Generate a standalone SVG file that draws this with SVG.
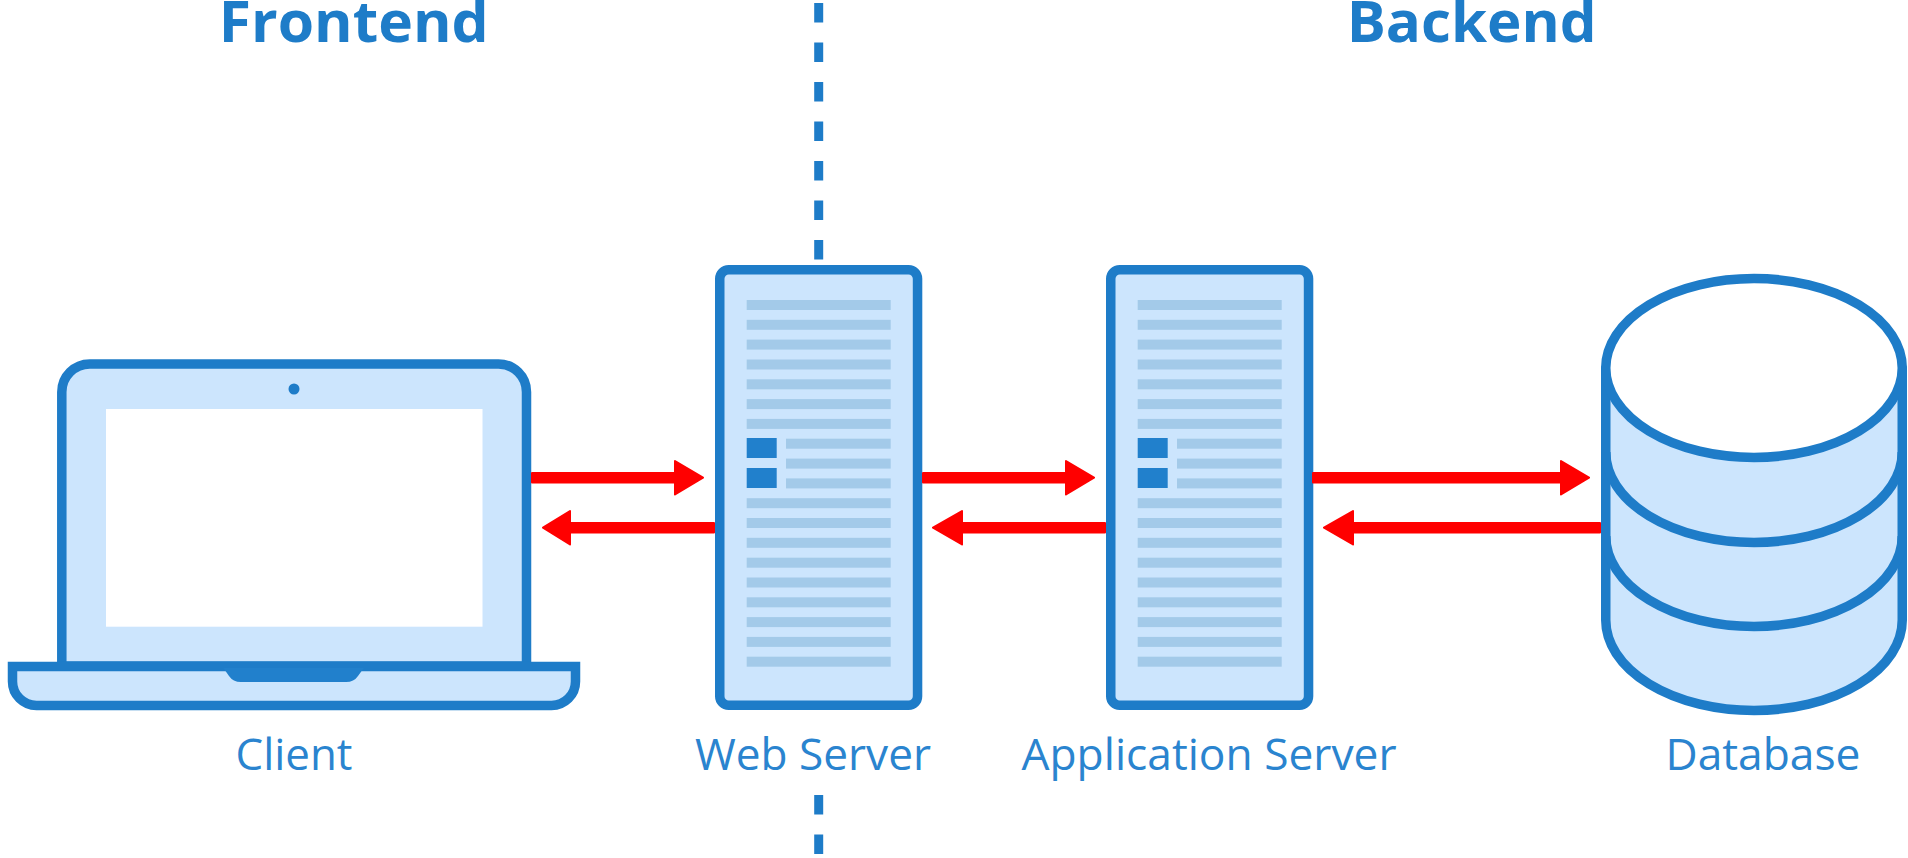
<svg xmlns="http://www.w3.org/2000/svg" width="1908" height="858" viewBox="0 0 1908 858">
<style>
.o{stroke:#1e7cc8;stroke-width:9.5;stroke-linejoin:round}
.f{fill:#cce5fd}
.b{fill:#a3cae9}
.d{fill:#2180cc}
.t{font-family:"Open Sans","Liberation Sans",sans-serif;fill:#2a84cf;font-size:44px;font-weight:400;text-anchor:middle}
.h{font-family:"Open Sans","Liberation Sans",sans-serif;fill:#1e7cc8;font-size:57px;font-weight:700;text-anchor:middle}
.r{fill:#f00;stroke:#f00;stroke-width:2;stroke-linejoin:round}
</style>
<defs>
<g id="srv">
<rect class="f o" x="719.75" y="269.75" width="197.8" height="435.5" rx="9"/>
<g class="b">
<rect x="746.7" y="300" width="144" height="10"/><rect x="746.7" y="319.8" width="144" height="10"/><rect x="746.7" y="339.6" width="144" height="10"/><rect x="746.7" y="359.5" width="144" height="10"/><rect x="746.7" y="379.3" width="144" height="10"/><rect x="746.7" y="399.1" width="144" height="10"/><rect x="746.7" y="418.9" width="144" height="10"/>
<rect x="786" y="438.7" width="104.7" height="10"/><rect x="786" y="458.6" width="104.7" height="10"/><rect x="786" y="478.4" width="104.7" height="10"/>
<rect x="746.7" y="498.2" width="144" height="10"/><rect x="746.7" y="518" width="144" height="10"/><rect x="746.7" y="537.8" width="144" height="10"/><rect x="746.7" y="557.7" width="144" height="10"/><rect x="746.7" y="577.5" width="144" height="10"/><rect x="746.7" y="597.3" width="144" height="10"/><rect x="746.7" y="617.1" width="144" height="10"/><rect x="746.7" y="636.9" width="144" height="10"/><rect x="746.7" y="656.7" width="144" height="10"/>
</g>
<rect class="d" x="746.7" y="438" width="30" height="20"/><rect class="d" x="746.7" y="468" width="30" height="20"/>
</g>
</defs>
<rect width="1908" height="858" fill="#fff"/>
<g id="divider" fill="none" stroke="#1e7cc8" stroke-width="9">
<path d="M818.7 3V260" stroke-dasharray="19.6 19.9"/>
<path d="M818.7 795V854" stroke-dasharray="19.6 19.9"/>
</g>
<text class="h" x="353.8" y="42" textLength="270" lengthAdjust="spacingAndGlyphs">Frontend</text>
<text class="h" x="1471.7" y="42" textLength="250" lengthAdjust="spacingAndGlyphs">Backend</text>
<g id="client">
<path class="f o" d="M61.8 666V392A28 28 0 0 1 89.8 364H498.5A28 28 0 0 1 526.5 392V666Z"/>
<rect x="106" y="409" width="376.5" height="217.7" fill="#fff"/>
<circle cx="294" cy="389" r="5.5" fill="#1e7cc8"/>
<path class="f" stroke="#1e7cc8" stroke-width="9.5" stroke-linejoin="miter" d="M12.5 666.4H575.5V681.5A24 24 0 0 1 551.5 705.5H36.5A24 24 0 0 1 12.5 681.5Z"/>
<path d="M223.4 668H363.8L358 676Q354 682 346 682H241Q233 682 229 676Z" fill="#2180cc"/>
<text class="t" x="294" y="769.5" textLength="117" lengthAdjust="spacingAndGlyphs">Client</text>
</g>
<g id="web-server">
<use href="#srv"/>
<text class="t" x="813" y="769.5" textLength="236" lengthAdjust="spacingAndGlyphs">Web Server</text>
</g>
<g id="app-server">
<use href="#srv" x="391"/>
<text class="t" x="1209" y="769.5" textLength="375" lengthAdjust="spacingAndGlyphs">Application Server</text>
</g>
<g id="database">
<path class="f o" d="M1605.75 368V620A148.25 90.5 0 0 0 1902.25 620V368Z"/>
<path class="o" fill="none" d="M1605.75 452A148.25 90.5 0 0 0 1902.25 452M1605.75 536A148.25 90.5 0 0 0 1902.25 536"/>
<ellipse class="o" cx="1754" cy="368" rx="148.25" ry="89.5" fill="#fff"/>
<text class="t" x="1763" y="769.5" textLength="195" lengthAdjust="spacingAndGlyphs">Database</text>
</g>
<g id="connectors">
<polygon class="r" points="532,473 675,473 675,461 703,477.7 675,494.5 675,482.5 532,482.5"/>
<polygon class="r" points="923,473 1066,473 1066,461 1094,477.7 1066,494.5 1066,482.5 923,482.5"/>
<polygon class="r" points="1313,473 1561,473 1561,461 1589,477.7 1561,494.5 1561,482.5 1313,482.5"/>
<polygon class="r" points="714,523 570,523 570,511 543,527.7 570,544.5 570,532.5 714,532.5"/>
<polygon class="r" points="1105,523 962,523 962,511 933,527.7 962,544.5 962,532.5 1105,532.5"/>
<polygon class="r" points="1600,523 1353,523 1353,511 1324,527.7 1353,544.5 1353,532.5 1600,532.5"/>
</g>
</svg>
